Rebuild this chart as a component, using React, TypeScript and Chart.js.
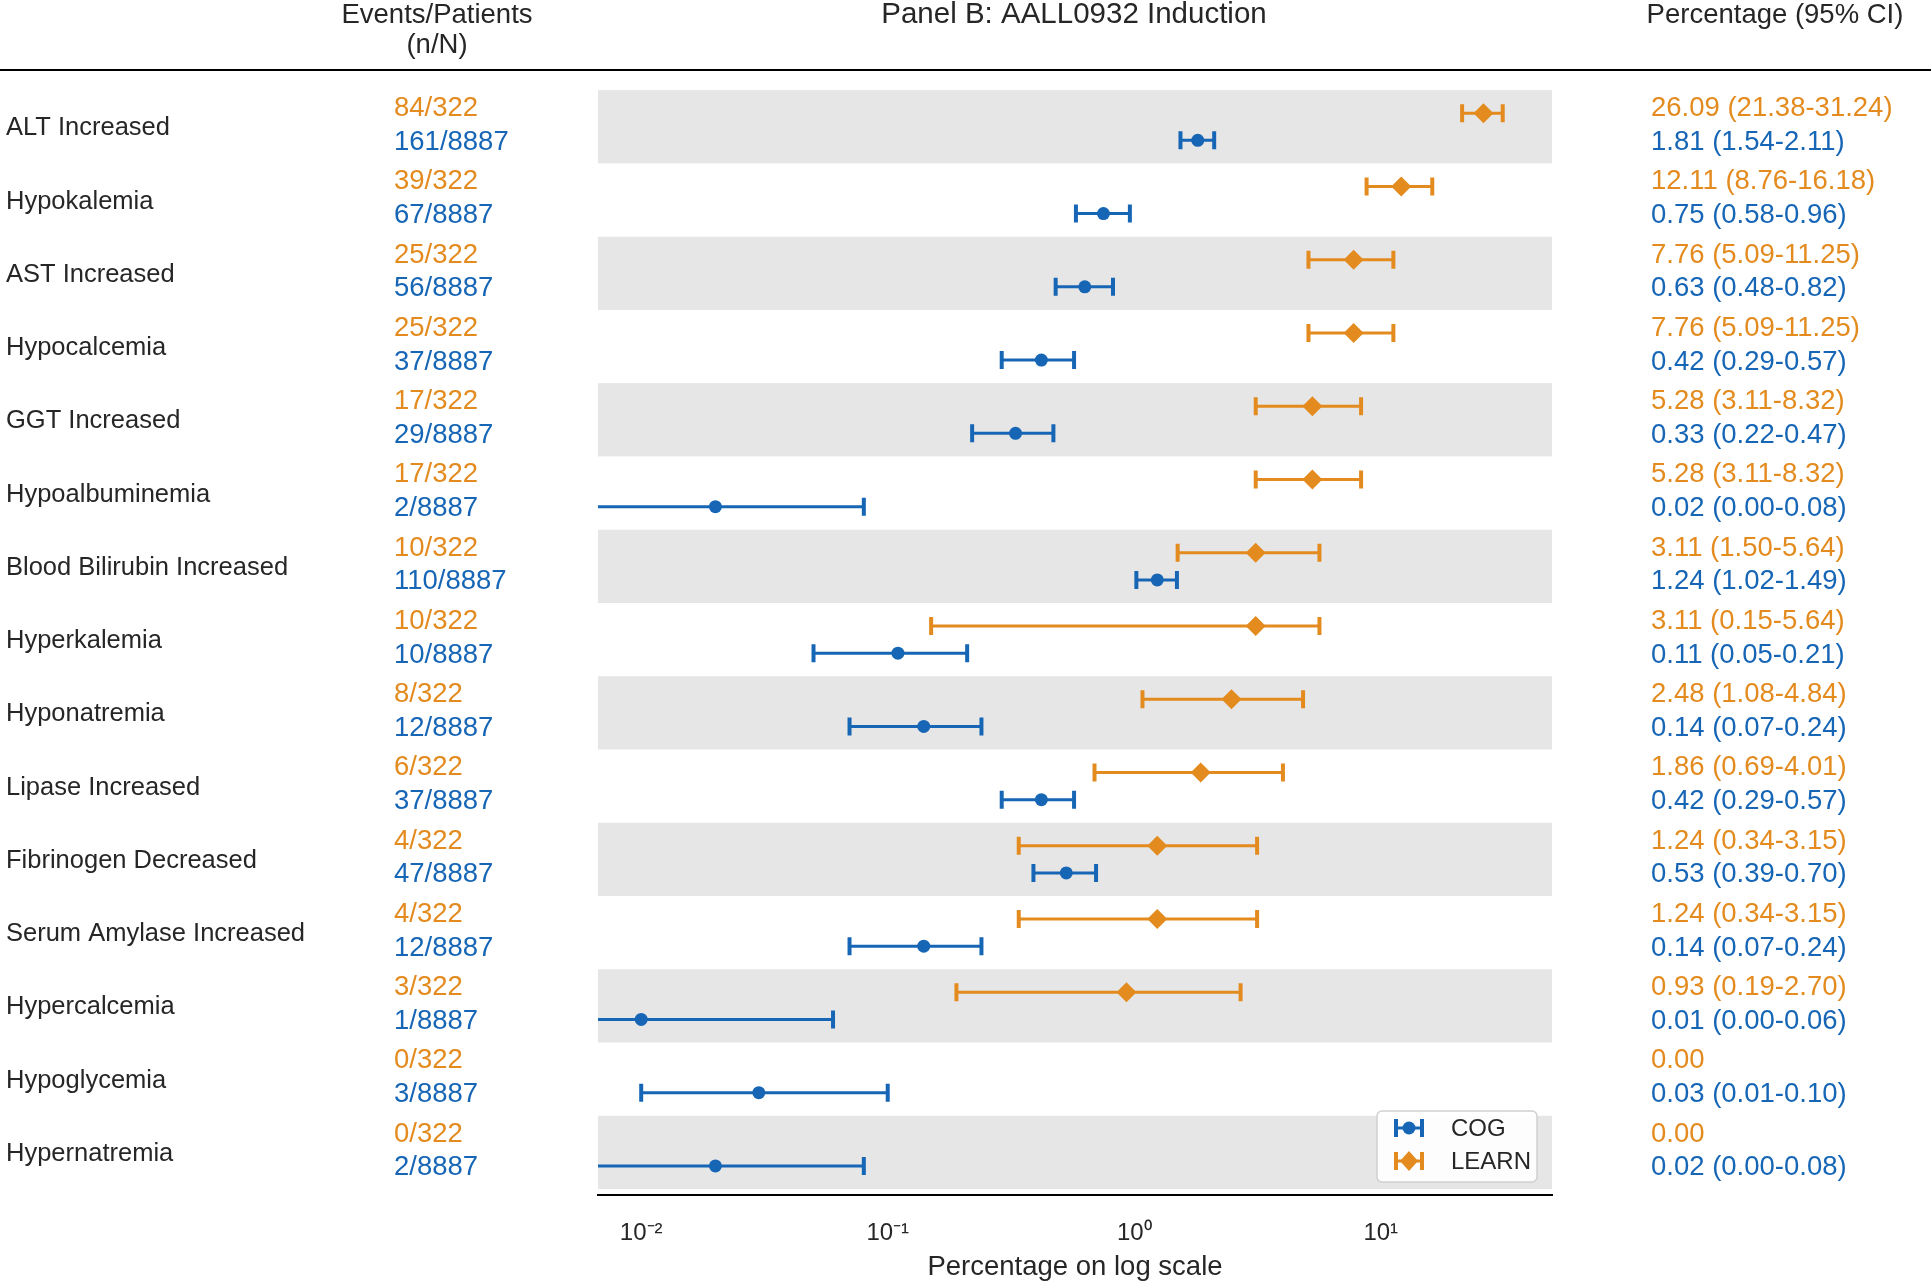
import React, { useEffect, useRef } from 'react';
import { Chart, registerables } from 'chart.js';

Chart.register(...registerables);

const categories = [
  'ALT Increased', 'Hypokalemia', 'AST Increased', 'Hypocalcemia', 'GGT Increased',
  'Hypoalbuminemia', 'Blood Bilirubin Increased', 'Hyperkalemia', 'Hyponatremia',
  'Lipase Increased', 'Fibrinogen Decreased', 'Serum Amylase Increased', 'Hypercalcemia',
  'Hypoglycemia', 'Hypernatremia',
];
const learnEvents = [84, 39, 25, 25, 17, 17, 10, 10, 8, 6, 4, 4, 3, 0, 0];
const learnTotal = 322;
const learnPct = [26.09, 12.11, 7.76, 7.76, 5.28, 5.28, 3.11, 3.11, 2.48, 1.86, 1.24, 1.24, 0.93, 0, 0];
const learnLo: (number | null)[] = [21.38, 8.76, 5.09, 5.09, 3.11, 3.11, 1.5, 0.15, 1.08, 0.69, 0.34, 0.34, 0.19, null, null];
const learnHi: (number | null)[] = [31.24, 16.18, 11.25, 11.25, 8.32, 8.32, 5.64, 5.64, 4.84, 4.01, 3.15, 3.15, 2.7, null, null];
const cogEvents = [161, 67, 56, 37, 29, 2, 110, 10, 12, 37, 47, 12, 1, 3, 2];
const cogTotal = 8887;
const cogPct = [1.81, 0.75, 0.63, 0.42, 0.33, 0.02, 1.24, 0.11, 0.14, 0.42, 0.53, 0.14, 0.01, 0.03, 0.02];
const cogLo: (number | null)[] = [1.54, 0.58, 0.48, 0.29, 0.22, 0.0, 1.02, 0.05, 0.07, 0.29, 0.39, 0.07, 0.0, 0.01, 0.0];
const cogHi: (number | null)[] = [2.11, 0.96, 0.82, 0.57, 0.47, 0.08, 1.49, 0.21, 0.24, 0.57, 0.7, 0.24, 0.06, 0.1, 0.08];
const tickValues = [0.01, 0.1, 1, 10];
const tickLabels = ['10⁻²', '10⁻¹', '10⁰', '10¹'];
const seriesNames = ['COG', 'LEARN'];

const ORANGE = '#E38B1F';
const BLUE = '#1766B6';
const BAND = '#E6E6E6';
const TEXT = '#262626';
const FONT = '"Liberation Sans", Arial, Helvetica, sans-serif';
const W = 1931;
const H = 1285;
const OFF = 0.185;

function fmt(p: number, lo: number | null, hi: number | null) {
  if (lo === null || hi === null) return p.toFixed(2);
  return `${p.toFixed(2)} (${lo.toFixed(2)}-${hi.toFixed(2)})`;
}

const decorPlugin = {
  id: 'decor',
  beforeDatasetsDraw(chart: any) {
    const { ctx, chartArea: a, scales } = chart;
    const ys = scales.y;
    const xs = scales.x;
    ctx.save();
    ctx.fillStyle = BAND;
    for (let i = 0; i < categories.length; i += 2) {
      const t = ys.getPixelForValue(i - 0.5);
      const b = ys.getPixelForValue(i + 0.5);
      ctx.fillRect(a.left, t, a.right - a.left, b - t);
    }
    ctx.beginPath();
    ctx.rect(a.left, a.top, a.right - a.left, a.bottom - a.top);
    ctx.clip();
    chart.data.datasets.forEach((ds: any) => {
      ctx.strokeStyle = ds.borderColor;
      ds.data.forEach((d: any) => {
        if (d.lo === null || d.hi === null) return;
        const y = ys.getPixelForValue(d.y);
        const xl = d.lo > 0 ? xs.getPixelForValue(d.lo) : a.left - 20;
        const xr = xs.getPixelForValue(d.hi);
        ctx.lineWidth = 3;
        ctx.beginPath();
        ctx.moveTo(xl, y);
        ctx.lineTo(xr, y);
        ctx.stroke();
        ctx.lineWidth = 4;
        ctx.beginPath();
        if (d.lo > 0) {
          ctx.moveTo(xl, y - 9);
          ctx.lineTo(xl, y + 9);
        }
        ctx.moveTo(xr, y - 9);
        ctx.lineTo(xr, y + 9);
        ctx.stroke();
      });
    });
    ctx.restore();
  },
  afterDraw(chart: any) {
    const { ctx, scales } = chart;
    const ys = scales.y;
    ctx.save();
    ctx.textBaseline = 'middle';
    // headers
    ctx.fillStyle = TEXT;
    ctx.font = `27.5px ${FONT}`;
    ctx.textAlign = 'center';
    ctx.fillText('Events/Patients', 437, 15);
    ctx.fillText('(n/N)', 437, 45);
    ctx.fillText('Percentage (95% CI)', 1775, 15);
    ctx.font = `29.5px ${FONT}`;
    ctx.fillText('Panel B: AALL0932 Induction', 1074, 15);
    ctx.strokeStyle = '#000';
    ctx.lineWidth = 2;
    ctx.beginPath();
    ctx.moveTo(0, 70);
    ctx.lineTo(W, 70);
    ctx.stroke();
    // rows
    categories.forEach((c, i) => {
      const yc = ys.getPixelForValue(i + 0.02);
      const yo = ys.getPixelForValue(i - 0.25);
      const yb = ys.getPixelForValue(i + 0.21);
      ctx.textAlign = 'left';
      ctx.fillStyle = TEXT;
      ctx.font = `25.5px ${FONT}`;
      ctx.fillText(c, 6, yc);
      ctx.font = `27.5px ${FONT}`;
      ctx.fillStyle = ORANGE;
      ctx.fillText(`${learnEvents[i]}/${learnTotal}`, 394, yo);
      ctx.fillText(fmt(learnPct[i], learnLo[i], learnHi[i]), 1651, yo);
      ctx.fillStyle = BLUE;
      ctx.fillText(`${cogEvents[i]}/${cogTotal}`, 394, yb);
      ctx.fillText(fmt(cogPct[i], cogLo[i], cogHi[i]), 1651, yb);
    });
    // legend
    const lx = 1377, ly = 1111, lw = 160, lh = 71;
    ctx.fillStyle = 'rgba(255,255,255,0.9)';
    ctx.strokeStyle = '#D0D0D0';
    ctx.lineWidth = 1.5;
    ctx.beginPath();
    (ctx as any).roundRect(lx, ly, lw, lh, 5);
    ctx.fill();
    ctx.stroke();
    const items = [
      { name: seriesNames[0], color: BLUE, shape: 'circle', y: 1128 },
      { name: seriesNames[1], color: ORANGE, shape: 'diamond', y: 1161 },
    ];
    items.forEach((it) => {
      const cx = 1409;
      ctx.strokeStyle = it.color;
      ctx.fillStyle = it.color;
      ctx.lineWidth = 3;
      ctx.beginPath();
      ctx.moveTo(cx - 13, it.y);
      ctx.lineTo(cx + 13, it.y);
      ctx.stroke();
      ctx.lineWidth = 4;
      ctx.beginPath();
      ctx.moveTo(cx - 13, it.y - 9);
      ctx.lineTo(cx - 13, it.y + 9);
      ctx.moveTo(cx + 13, it.y - 9);
      ctx.lineTo(cx + 13, it.y + 9);
      ctx.stroke();
      ctx.beginPath();
      if (it.shape === 'circle') {
        ctx.arc(cx, it.y, 6.5, 0, Math.PI * 2);
      } else {
        ctx.moveTo(cx, it.y - 10);
        ctx.lineTo(cx + 9, it.y);
        ctx.lineTo(cx, it.y + 10);
        ctx.lineTo(cx - 9, it.y);
        ctx.closePath();
      }
      ctx.fill();
      ctx.fillStyle = TEXT;
      ctx.font = `24px ${FONT}`;
      ctx.textAlign = 'left';
      ctx.fillText(it.name, 1451, it.y + 1);
    });
    ctx.restore();
  },
};

export default function App() {
  const ref = useRef<HTMLCanvasElement | null>(null);
  useEffect(() => {
    if (!ref.current) return;
    const learnPoints = categories
      .map((_, i) => ({ x: learnPct[i], y: i - OFF, lo: learnLo[i], hi: learnHi[i] }))
      .filter((d) => d.x > 0);
    const cogPoints = categories
      .map((_, i) => ({ x: cogPct[i], y: i + OFF, lo: cogLo[i], hi: cogHi[i] }))
      .filter((d) => d.x > 0);
    const chart = new Chart(ref.current, {
      type: 'scatter',
      data: {
        datasets: [
          {
            label: seriesNames[1],
            data: learnPoints as any,
            pointStyle: 'rectRot',
            pointRadius: 10,
            pointBorderWidth: 0,
            backgroundColor: ORANGE,
            borderColor: ORANGE,
          },
          {
            label: seriesNames[0],
            data: cogPoints as any,
            pointStyle: 'circle',
            pointRadius: 6.5,
            pointBorderWidth: 0,
            backgroundColor: BLUE,
            borderColor: BLUE,
          },
        ],
      },
      options: {
        responsive: false,
        animation: false,
        devicePixelRatio: 1,
        layout: { padding: { left: 598, right: 379, top: 84, bottom: 1 } },
        plugins: {
          legend: { display: false },
          tooltip: { enabled: false },
        },
        scales: {
          x: {
            type: 'logarithmic',
            min: 0.00668,
            max: 49.5,
            afterBuildTicks: (s: any) => {
              s.ticks = tickValues.map((v) => ({ value: v }));
            },
            ticks: {
              autoSkip: false,
              maxRotation: 0,
              padding: 24,
              color: TEXT,
              font: { size: 24, family: FONT },
              callback: (v: any) => {
                const k = tickValues.findIndex((t) => Math.abs(t - Number(v)) < t * 1e-6);
                return k >= 0 ? tickLabels[k] : '';
              },
            },
            grid: { display: false, drawTicks: false },
            border: { display: true, color: '#000', width: 2 },
            title: {
              display: true,
              text: 'Percentage on log scale',
              color: TEXT,
              font: { size: 27.5, family: FONT },
              padding: { top: -21, bottom: 0 },
            },
          },
          y: { type: 'linear', display: false, min: -0.584, max: 14.584, reverse: true },
        },
      },
      plugins: [decorPlugin],
    });
    return () => chart.destroy();
  }, []);
  return (
    <div style={{ position: 'fixed', left: 0, top: 0, width: W, height: H, background: '#fff' }}>
      <canvas ref={ref} width={W} height={H} style={{ width: W, height: H, display: 'block' }} />
    </div>
  );
}
